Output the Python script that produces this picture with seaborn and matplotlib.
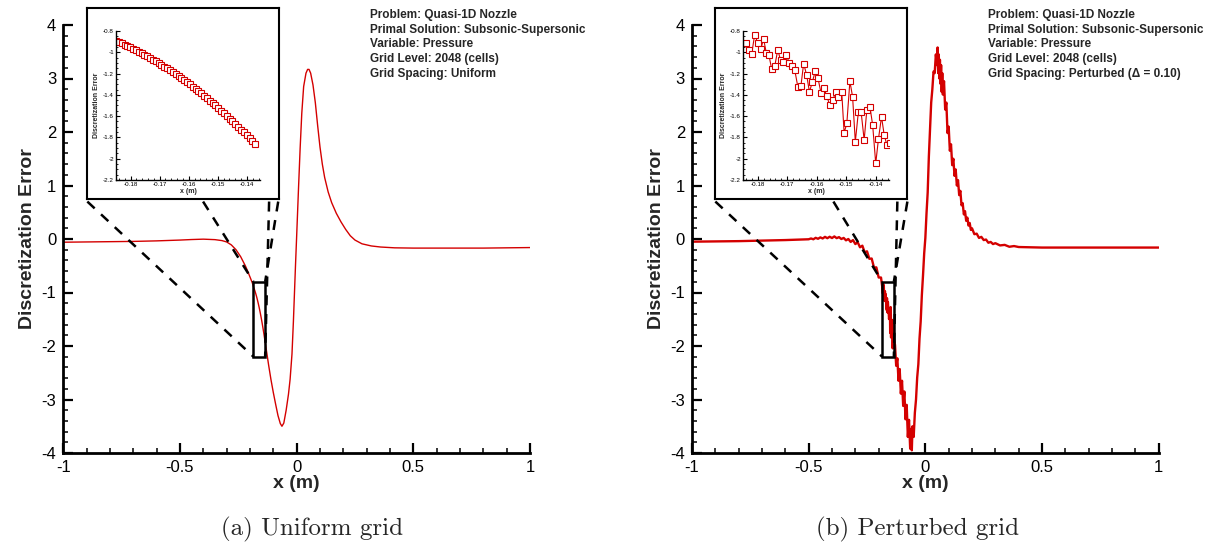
import numpy as np
import pandas as pd
import matplotlib
matplotlib.use("Agg")
import matplotlib.pyplot as plt
import seaborn as sns
from matplotlib.patches import Rectangle
from matplotlib.ticker import MultipleLocator, FuncFormatter

# ---------------- DATA ----------------
# Uniform grid: main curve (outside the zoom window)
uni_x_left = [-1.0, -0.9, -0.8, -0.7, -0.6, -0.5, -0.45, -0.4, -0.35, -0.32, -0.30,
              -0.28, -0.26, -0.24, -0.22, -0.21, -0.20, -0.19]
uni_y_left = [-0.06, -0.055, -0.05, -0.045, -0.035, -0.02, -0.01, -0.003, -0.012, -0.03, -0.055,
              -0.11, -0.20, -0.33, -0.50, -0.60, -0.71, -0.82]
uni_x_right = [-0.13, -0.12, -0.11, -0.10, -0.09, -0.08, -0.07, -0.063, -0.055, -0.045,
               -0.035, -0.028, -0.02, -0.014, -0.005, 0.0, 0.008, 0.015, 0.022, 0.03,
               0.04, 0.047, 0.053, 0.06, 0.07, 0.08, 0.09, 0.10, 0.11, 0.12, 0.135,
               0.15, 0.17, 0.19, 0.21, 0.23, 0.25, 0.28, 0.32, 0.36, 0.42, 0.5, 0.6,
               0.8, 1.0]
uni_y_right = [-2.07, -2.36, -2.63, -2.87, -3.09, -3.30, -3.45, -3.50, -3.44, -3.20,
               -2.90, -2.62, -2.15, -1.55, -0.50, 0.05, 0.95, 1.70, 2.35, 2.85,
               3.10, 3.17, 3.17, 3.10, 2.88, 2.55, 2.12, 1.72, 1.40, 1.15, 0.88,
               0.68, 0.48, 0.32, 0.18, 0.06, -0.02, -0.09, -0.13, -0.15, -0.165, -0.17, -0.17,
               -0.17, -0.16]

# Uniform grid: cells inside the zoom window (inset)
uni_zoom_x0 = -0.185
uni_zoom_dx = 2.0 / 2048
uni_zoom_y = [-0.8940, -0.9052, -0.9169, -0.9288, -0.9411, -0.9538, -0.9668, -0.9802,
              -0.9940, -1.0081, -1.0225, -1.0374, -1.0525, -1.0681, -1.0840, -1.1002,
              -1.1168, -1.1338, -1.1511, -1.1687, -1.1868, -1.2051, -1.2239, -1.2430,
              -1.2625, -1.2822, -1.3024, -1.3230, -1.3438, -1.3650, -1.3867, -1.4086,
              -1.4309, -1.4536, -1.4766, -1.4999, -1.5237, -1.5478, -1.5722, -1.5970,
              -1.6222, -1.6477, -1.6736, -1.6999, -1.7265, -1.7534, -1.7807, -1.8084,
              -1.8363, -1.8647]

# Perturbed grid: main curve (outside the zoom window)
per_x_left = [-1.0, -0.9, -0.8, -0.7, -0.6, -0.5,
              -0.49, -0.48, -0.47, -0.46, -0.45, -0.44, -0.43, -0.42, -0.41, -0.40,
              -0.39, -0.38, -0.37, -0.36, -0.35, -0.34, -0.33, -0.32, -0.31, -0.30,
              -0.29, -0.28, -0.27, -0.26, -0.25, -0.24, -0.23, -0.22, -0.21, -0.20, -0.19]
per_y_left = [-0.05, -0.045, -0.04, -0.03, -0.02, -0.005,
              0.01, -0.005, 0.022, 0.004, 0.03, 0.01, 0.04, 0.015, 0.042, 0.018,
              0.048, 0.016, 0.035, 0.0, 0.02, -0.025, 0.0, -0.055, -0.02, -0.095,
              -0.06, -0.155, -0.125, -0.25, -0.23, -0.37, -0.365, -0.535, -0.53, -0.72, -0.72]
per_x_right = [-0.130, -0.125, -0.120, -0.115, -0.110, -0.105, -0.100, -0.095, -0.090,
               -0.085, -0.080, -0.075, -0.070, -0.065, -0.062, -0.058, -0.055, -0.050,
               -0.045, -0.040, -0.035, -0.030, -0.025, -0.020, -0.015, -0.010, -0.005,
               0.000, 0.005, 0.010, 0.015, 0.020, 0.025, 0.030, 0.035, 0.040,
               0.045, 0.050, 0.0525, 0.055, 0.0575, 0.060, 0.0625, 0.065, 0.0675, 0.070,
               0.0725, 0.075, 0.080, 0.085, 0.090, 0.095, 0.100, 0.105, 0.110, 0.115,
               0.120, 0.125, 0.130, 0.135, 0.140, 0.145, 0.150, 0.155, 0.160, 0.165,
               0.170, 0.175, 0.180, 0.185, 0.190, 0.195, 0.200,
               0.21, 0.22, 0.23, 0.24, 0.25, 0.26, 0.27, 0.28, 0.29, 0.30, 0.32, 0.34,
               0.36, 0.38, 0.40, 0.5, 0.7, 1.0]
per_y_right = [-1.98, -2.37, -2.23, -2.65, -2.43, -2.89, -2.65, -3.12, -2.85,
               -3.37, -3.10, -3.70, -3.38, -3.92, -3.55, -3.95, -3.50, -3.70,
               -3.25, -3.00, -2.59, -2.34, -1.86, -1.54, -1.05, -0.68, -0.27,
               0.02, 0.48, 0.87, 1.54, 2.06, 2.55, 2.80, 3.13, 3.10,
               3.45, 3.25, 3.58, 3.10, 3.45, 3.00, 3.35, 2.90, 3.25, 2.75,
               3.10, 2.70, 2.95, 2.42, 2.55, 1.98, 2.10, 1.65, 1.77, 1.38,
               1.50, 1.18, 1.30, 1.00, 1.10, 0.82, 0.90, 0.63, 0.67, 0.46,
               0.52, 0.34, 0.40, 0.25, 0.30, 0.17, 0.20,
               0.09, 0.10, 0.02, 0.04, -0.02, -0.01, -0.07, -0.055, -0.095, -0.078, -0.12, -0.11,
               -0.145, -0.132, -0.15, -0.16, -0.16, -0.16]

# Perturbed grid: cells inside the zoom window (inset)
per_zoom_x = [-0.18415, -0.18311, -0.18207, -0.18104, -0.18000, -0.17896, -0.17804,
              -0.17712, -0.17620, -0.17527, -0.17424, -0.17320, -0.17228, -0.17135,
              -0.17032, -0.16928, -0.16836, -0.16744, -0.16640, -0.16536, -0.16444,
              -0.16340, -0.16248, -0.16144, -0.16052, -0.15960, -0.15856, -0.15752,
              -0.15660, -0.15556, -0.15452, -0.15360, -0.15268, -0.15153, -0.15072,
              -0.14980, -0.14876, -0.14784, -0.14692, -0.14588, -0.14496, -0.14392,
              -0.14300, -0.14196, -0.14104, -0.14000, -0.13908, -0.13804, -0.13712,
              -0.13620, -0.13516]
per_zoom_y = [-0.913, -0.981, -1.019, -0.834, -0.913, -0.972, -0.872,
              -1.003, -1.028, -1.159, -1.131, -0.975, -1.075, -1.091,
              -1.028, -1.100, -1.131, -1.170, -1.325, -1.316, -1.106,
              -1.216, -1.372, -1.275, -1.178, -1.241, -1.381, -1.338,
              -1.413, -1.497, -1.450, -1.372, -1.419, -1.372, -1.756,
              -1.669, -1.272, -1.419, -1.841, -1.559, -1.559, -1.825,
              -1.538, -1.513, -1.684, -2.044, -1.816, -1.606, -1.778,
              -1.872, -1.856]

# zoom window (inset limits)
zoom_xlim = [-0.185, -0.1355]
zoom_ylim = [-2.2, -0.8]

info_common = ["Problem: Quasi-1D Nozzle",
               "Primal Solution: Subsonic-Supersonic",
               "Variable: Pressure",
               "Grid Level: 2048 (cells)"]
info_spacing = ["Grid Spacing: Uniform", "Grid Spacing: Perturbed (\u0394 = 0.10)"]
captions = ["(a) Uniform grid", "(b) Perturbed grid"]

# ---------------- STYLE ----------------
sns.set_theme(style="white")
plt.rcParams["font.family"] = ["Liberation Sans", "DejaVu Sans"]
plt.rcParams["axes.unicode_minus"] = False

RED = "#d40000"
W, H = 1222, 548
fig = plt.figure(figsize=(W / 100, H / 100), dpi=100)
fmt = FuncFormatter(lambda v, p: "%g" % round(v, 6))


def px(x0, y0, x1, y1):
    return [x0 / W, 1 - y1 / H, (x1 - x0) / W, (y1 - y0) / H]


uni_zoom_x = [uni_zoom_x0 + i * uni_zoom_dx for i in range(len(uni_zoom_y))]

panels = [
    dict(main=(63.3, 25, 530, 453), frame=(87, 8, 279, 199), inset=(116, 31, 260, 180),
         x=uni_x_left + uni_zoom_x + uni_x_right, y=uni_y_left + uni_zoom_y + uni_y_right,
         zx=uni_zoom_x, zy=uni_zoom_y, lw=1.0, ms=4.2, info=info_common + [info_spacing[0]],
         text_x=370, cap_x=312, cap=captions[0],
         dash_top=[-0.897, -0.401, -0.079, -0.118]),
    dict(main=(692, 25, 1158.7, 453), frame=(715, 8, 907, 199), inset=(743, 31, 889, 180),
         x=per_x_left + per_zoom_x + per_x_right, y=per_y_left + per_zoom_y + per_y_right,
         zx=per_zoom_x, zy=per_zoom_y, lw=1.7, ms=3.8, info=info_common + [info_spacing[1]],
         text_x=988, cap_x=918, cap=captions[1],
         dash_top=[-0.900, -0.394, -0.077, -0.120]),
]

for p in panels:
    ax = fig.add_axes(px(*p["main"]))
    df = pd.DataFrame({"x": p["x"], "y": p["y"]})
    sns.lineplot(data=df, x="x", y="y", ax=ax, color=RED, lw=p["lw"],
                 estimator=None, sort=False, errorbar=None)
    ax.set_xlim(-1, 1)
    ax.set_ylim(-4, 4)
    ax.xaxis.set_major_locator(MultipleLocator(0.5))
    ax.xaxis.set_minor_locator(MultipleLocator(0.1))
    ax.yaxis.set_major_locator(MultipleLocator(1))
    ax.yaxis.set_minor_locator(MultipleLocator(0.2))
    ax.xaxis.set_major_formatter(fmt)
    ax.yaxis.set_major_formatter(fmt)
    ax.tick_params(which="major", direction="in", length=7, width=1.6, labelsize=12,
                   colors="black", pad=5)
    ax.tick_params(which="minor", direction="in", length=3.5, width=1.1, colors="black")
    ax.tick_params(bottom=True, left=True, top=False, right=False, which="both")
    for s in ["top", "right"]:
        ax.spines[s].set_visible(False)
    for s in ["left", "bottom"]:
        ax.spines[s].set_linewidth(2.0)
        ax.spines[s].set_color("black")
    ax.set_xlabel("x (m)", fontsize=14, fontweight="bold", labelpad=0)
    ax.set_ylabel("Discretization Error", fontsize=14, fontweight="bold", labelpad=4)
    ax.set_facecolor("none")

    # zoom rectangle and connector lines
    ax.add_patch(Rectangle((zoom_xlim[0], zoom_ylim[0]), 0.05, zoom_ylim[1] - zoom_ylim[0],
                           fill=False, ec="black", lw=1.8, zorder=4))
    ytop = 0.70
    ends = [(zoom_xlim[0], zoom_ylim[0]), (zoom_xlim[0], zoom_ylim[1]),
            (-0.135, zoom_ylim[1]), (-0.135, zoom_ylim[0])]
    for xt, (xe, ye) in zip(p["dash_top"], ends):
        ax.plot([xt, xe], [ytop, ye], color="black", lw=1.8, ls=(0, (4, 3.5)),
                zorder=3, clip_on=False)

    # inset frame
    fr = fig.add_axes(px(*p["frame"]))
    fr.set_xticks([])
    fr.set_yticks([])
    fr.set_facecolor("white")
    for s in fr.spines.values():
        s.set_linewidth(1.5)
        s.set_color("black")
        s.set_visible(True)
    fr.set_zorder(5)

    ins = fig.add_axes(px(*p["inset"]))
    ins.set_zorder(6)
    dz = pd.DataFrame({"x": p["zx"], "y": p["zy"]})
    sns.lineplot(data=dz, x="x", y="y", ax=ins, color=RED, lw=0.8, marker="s",
                 markersize=p["ms"], markerfacecolor="white", markeredgecolor=RED,
                 markeredgewidth=0.8, estimator=None, sort=False, errorbar=None)
    ins.set_xlim(*zoom_xlim)
    ins.set_ylim(*zoom_ylim)
    ins.xaxis.set_major_locator(MultipleLocator(0.01))
    ins.xaxis.set_minor_locator(MultipleLocator(0.002))
    ins.yaxis.set_major_locator(MultipleLocator(0.2))
    ins.yaxis.set_minor_locator(MultipleLocator(0.05))
    ins.xaxis.set_major_formatter(fmt)
    ins.yaxis.set_major_formatter(fmt)
    ins.tick_params(which="major", direction="in", length=3, width=0.8, labelsize=4.5,
                    pad=1.5, colors="black")
    ins.tick_params(which="minor", direction="in", length=1.5, width=0.6, colors="black")
    ins.tick_params(bottom=True, left=True, top=False, right=False, which="both")
    for s in ["top", "right"]:
        ins.spines[s].set_visible(False)
    for s in ["left", "bottom"]:
        ins.spines[s].set_linewidth(1.0)
        ins.spines[s].set_color("black")
    ins.set_xlabel("x (m)", fontsize=5, fontweight="bold", labelpad=0.5)
    ins.set_ylabel("Discretization Error", fontsize=5, fontweight="bold", labelpad=2)
    ins.set_facecolor("white")

    fig.text(p["text_x"] / W, 1 - 9 / H, "\n".join(p["info"]), fontsize=8.5,
             fontweight="bold", ha="left", va="top", linespacing=1.3)
    fig.text(p["cap_x"] / W, 1 - 529 / H, p["cap"], fontsize=18, family="cmr10",
             ha="center", va="center")

fig.savefig("out.png", dpi=100, facecolor="white")
